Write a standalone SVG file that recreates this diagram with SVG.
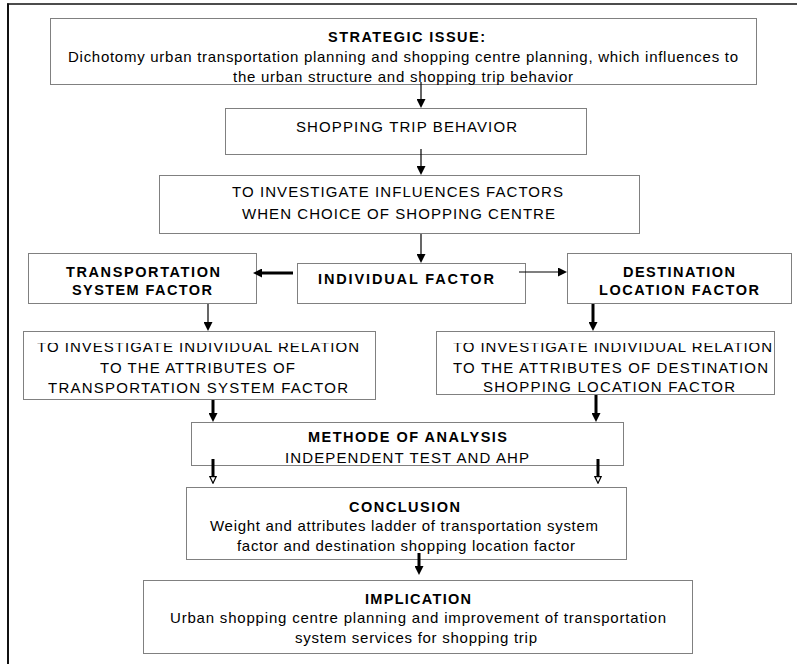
<svg xmlns="http://www.w3.org/2000/svg" width="797" height="664" viewBox="0 0 797 664">
  <style>
    .box { fill: #ffffff; stroke: #808080; stroke-width: 1; }
    .t { font-family: "Liberation Sans", Arial, sans-serif; font-size: 15px; fill: #000000; }
    .b { font-weight: bold; font-size: 14.5px; }
    .thin { stroke: #000000; stroke-width: 1.2; fill: none; }
    .thick { stroke: #000000; stroke-width: 3; fill: none; }
    .frame { stroke: #111111; fill: none; }
  </style>
  <defs>
    <marker id="head" markerUnits="userSpaceOnUse" markerWidth="9" markerHeight="9" viewBox="0 0 9 9" refX="3" refY="4.5" orient="auto">
      <path d="M0,0 L9,4.5 L0,9 Z" fill="#000000"/>
    </marker>
    <marker id="head-open" markerUnits="userSpaceOnUse" markerWidth="8" markerHeight="8" viewBox="0 0 8 8" refX="1" refY="4" orient="auto">
      <path d="M0.7,0.9 L7.2,4 L0.7,7.1 Z" fill="#ffffff" stroke="#000000" stroke-width="1.2"/>
    </marker>
    <!-- the first line of the two relation boxes loses the top of its capitals -->
    <clipPath id="cut-top" clipPathUnits="userSpaceOnUse">
      <rect x="0" y="343" width="797" height="60"/>
    </clipPath>
  </defs>

  <rect width="797" height="664" fill="#ffffff"/>

  <!-- page frame -->
  <g id="frame">
    <line class="frame" x1="7" y1="4" x2="797" y2="4" stroke-width="1.5"/>
    <line class="frame" x1="8" y1="3.5" x2="8" y2="664" stroke-width="2"/>
  </g>

  <g id="strategic-issue">
    <rect class="box" x="50.5" y="18.5" width="706" height="66"/>
    <text class="t b" x="328" y="42" textLength="157" lengthAdjust="spacing">STRATEGIC ISSUE:</text>
    <text class="t" x="68" y="62" textLength="670" lengthAdjust="spacing">Dichotomy urban transportation planning and shopping centre planning, which influences to</text>
    <text class="t" x="233" y="82" textLength="340" lengthAdjust="spacing">the urban structure and shopping trip behavior</text>
  </g>

  <g id="shopping-trip-behavior">
    <rect class="box" x="225.5" y="108.5" width="361" height="46"/>
    <text class="t" x="296" y="131.5" textLength="221" lengthAdjust="spacing">SHOPPING TRIP BEHAVIOR</text>
  </g>

  <g id="investigate-influences">
    <rect class="box" x="159.5" y="175.5" width="480" height="58"/>
    <text class="t" x="232" y="197" textLength="331" lengthAdjust="spacing">TO INVESTIGATE INFLUENCES FACTORS</text>
    <text class="t" x="242" y="219" textLength="313" lengthAdjust="spacing">WHEN CHOICE OF SHOPPING CENTRE</text>
  </g>

  <g id="transportation-system-factor">
    <rect class="box" x="28.5" y="253.5" width="228" height="50"/>
    <text class="t b" x="66" y="277" textLength="154" lengthAdjust="spacing">TRANSPORTATION</text>
    <text class="t b" x="72" y="295" textLength="140" lengthAdjust="spacing">SYSTEM FACTOR</text>
  </g>

  <g id="individual-factor">
    <rect class="box" x="297.5" y="263.5" width="228" height="40"/>
    <text class="t b" x="318" y="284" textLength="176" lengthAdjust="spacing">INDIVIDUAL FACTOR</text>
  </g>

  <g id="destination-location-factor">
    <rect class="box" x="567.5" y="253.5" width="224" height="50"/>
    <text class="t b" x="623" y="277" textLength="112" lengthAdjust="spacing">DESTINATION</text>
    <text class="t b" x="599" y="295" textLength="160" lengthAdjust="spacing">LOCATION FACTOR</text>
  </g>

  <g id="relation-transportation">
    <rect class="box" x="23.5" y="331.5" width="352" height="68"/>
    <text class="t" x="37" y="351.5" textLength="322" lengthAdjust="spacing" clip-path="url(#cut-top)">TO INVESTIGATE INDIVIDUAL RELATION</text>
    <text class="t" x="100" y="373" textLength="195" lengthAdjust="spacing">TO THE ATTRIBUTES OF</text>
    <text class="t" x="48" y="393" textLength="300" lengthAdjust="spacing">TRANSPORTATION SYSTEM FACTOR</text>
  </g>

  <g id="relation-destination">
    <rect class="box" x="436.5" y="331.5" width="338" height="63"/>
    <text class="t" x="453" y="351.5" textLength="319" lengthAdjust="spacing" clip-path="url(#cut-top)">TO INVESTIGATE INDIVIDUAL RELATION</text>
    <text class="t" x="453" y="373" textLength="315" lengthAdjust="spacing">TO THE ATTRIBUTES OF DESTINATION</text>
    <text class="t" x="483" y="392" textLength="252" lengthAdjust="spacing">SHOPPING LOCATION FACTOR</text>
  </g>

  <g id="method-of-analysis">
    <rect class="box" x="191.5" y="422.5" width="432" height="43"/>
    <text class="t b" x="308" y="442" textLength="199" lengthAdjust="spacing">METHODE OF ANALYSIS</text>
    <text class="t" x="285" y="463" textLength="244" lengthAdjust="spacing">INDEPENDENT TEST AND AHP</text>
  </g>

  <g id="conclusion">
    <rect class="box" x="186.5" y="487.5" width="440" height="72"/>
    <text class="t b" x="349" y="512" textLength="111" lengthAdjust="spacing">CONCLUSION</text>
    <text class="t" x="210" y="531" textLength="388" lengthAdjust="spacing">Weight and attributes ladder of transportation system</text>
    <text class="t" x="237" y="551" textLength="338" lengthAdjust="spacing">factor and destination shopping location factor</text>
  </g>

  <g id="implication">
    <rect class="box" x="143.5" y="580.5" width="549" height="73"/>
    <text class="t b" x="365" y="604" textLength="106" lengthAdjust="spacing">IMPLICATION</text>
    <text class="t" x="170" y="623" textLength="496" lengthAdjust="spacing">Urban shopping centre planning and improvement of transportation</text>
    <text class="t" x="295" y="643" textLength="242" lengthAdjust="spacing">system services for shopping trip</text>
  </g>

  <g id="connectors">
    <line class="thin" x1="421" y1="82" x2="421" y2="102" marker-end="url(#head)"/>
    <line class="thin" x1="421" y1="149" x2="421" y2="169" marker-end="url(#head)"/>
    <line class="thin" x1="421" y1="234" x2="421" y2="257" marker-end="url(#head)"/>
    <line class="thick" x1="293" y1="273" x2="259" y2="273" marker-end="url(#head)"/>
    <line class="thin" x1="519" y1="272" x2="561" y2="272" marker-end="url(#head)"/>
    <line class="thin" x1="208" y1="304" x2="208" y2="325" marker-end="url(#head)"/>
    <line class="thick" x1="593" y1="304" x2="593" y2="325" marker-end="url(#head)"/>
    <line class="thick" x1="213" y1="400" x2="213" y2="416" marker-end="url(#head)"/>
    <line class="thick" x1="596" y1="395" x2="596" y2="416" marker-end="url(#head)"/>
    <line class="thick" x1="213" y1="459" x2="213" y2="477" marker-end="url(#head-open)"/>
    <line class="thick" x1="598" y1="459" x2="598" y2="477" marker-end="url(#head-open)"/>
    <line class="thick" x1="419" y1="553" x2="419" y2="569" marker-end="url(#head)"/>
  </g>
</svg>
